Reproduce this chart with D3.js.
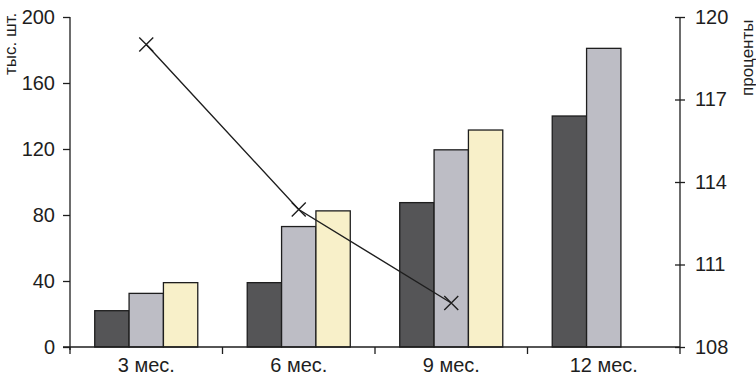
<!DOCTYPE html>
<html lang="ru">
<head>
  <meta charset="UTF-8">
  <title>Chart</title>
  <script src="https://d3js.org/d3.v7.min.js"></script>
  <style>
    body { margin: 0; background: #fff; }
    svg { display: block; font-family: "Liberation Sans", Arial, sans-serif; }
  </style>
</head>
<body>
  <svg id="chart" width="756" height="376"></svg>
  <script>
    const periods = ["3 мес.", "6 мес.", "9 мес.", "12 мес."];
    const seriesNames = ["s1", "s2", "s3"];
    const series1 = [22, 39, 87.5, 140];
    const series2 = [32.5, 73, 119.5, 181];
    const series3 = [39, 82.5, 131.5, null];
    const percents = [119, 113, 109.6];
    const leftTicks = [0, 40, 80, 120, 160, 200];
    const rightTicks = [108, 111, 114, 117, 120];
    const colors = ["#555557", "#bdbdc5", "#f8f0c9"];

    const svg = d3.select("#chart");
    const plotLeft = 70, plotRight = 680, plotTop = 17, plotBottom = 347;
    const fontFam = "Liberation Sans, Arial, sans-serif";

    const x = d3.scaleBand().domain(periods).range([plotLeft, plotRight]);
    const inner = d3.scaleBand().domain(seriesNames).range([0, x.bandwidth()]).paddingOuter(0.72).paddingInner(0);
    const yL = d3.scaleLinear().domain([0, 200]).range([plotBottom, plotTop]);
    const yR = d3.scaleLinear().domain([108, 120]).range([plotBottom, plotTop]);

    const data = periods.flatMap((p, i) => [series1[i], series2[i], series3[i]]
      .map((v, j) => ({ p, s: seriesNames[j], v, c: colors[j] }))
      .filter(d => d.v != null));

    svg.append("g").selectAll("rect").data(data).enter().append("rect")
      .attr("x", d => x(d.p) + inner(d.s))
      .attr("y", d => yL(d.v))
      .attr("width", inner.bandwidth())
      .attr("height", d => yL(0) - yL(d.v))
      .attr("fill", d => d.c)
      .attr("stroke", "#1e1e1e")
      .attr("stroke-width", 1.3);

    // left axis
    const gl = svg.append("g").attr("transform", `translate(${plotLeft},0)`)
      .call(d3.axisLeft(yL).tickValues(leftTicks).tickSize(7).tickPadding(8));
    gl.select(".domain").attr("d", `M0,${plotTop}V${plotBottom + 3}`).attr("stroke", "#1e1e1e").attr("stroke-width", 1.3);
    gl.selectAll(".tick line").attr("stroke", "#1e1e1e").attr("stroke-width", 1.3);
    gl.selectAll("text").attr("font-size", 20).attr("fill", "#1e1e1e").attr("font-family", fontFam);

    // right axis
    const gr = svg.append("g").attr("transform", `translate(${plotRight},0)`)
      .call(d3.axisRight(yR).tickValues(rightTicks).tickSize(5).tickPadding(10));
    gr.select(".domain").attr("d", `M0,${plotTop}V${plotBottom}`).attr("stroke", "#1e1e1e").attr("stroke-width", 1.3);
    gr.selectAll(".tick line").attr("x1", -5).attr("stroke", "#1e1e1e").attr("stroke-width", 1.3);
    gr.selectAll("text").attr("font-size", 20).attr("fill", "#1e1e1e").attr("font-family", fontFam);

    // bottom axis
    const gb = svg.append("g").attr("transform", `translate(0,${plotBottom})`)
      .call(d3.axisBottom(x).tickSize(0).tickPadding(11));
    gb.select(".domain").attr("d", `M${plotLeft - 7},0H${plotRight}`).attr("stroke", "#1e1e1e").attr("stroke-width", 1.3);
    gb.selectAll("text").attr("font-size", 20).attr("fill", "#1e1e1e").attr("font-family", fontFam);
    gb.selectAll(".sep").data(periods.concat(["end"])).enter().append("line")
      .attr("x1", (d, i) => i < periods.length ? x(d) : plotRight)
      .attr("x2", (d, i) => i < periods.length ? x(d) : plotRight)
      .attr("y1", 0).attr("y2", 7)
      .attr("stroke", "#1e1e1e").attr("stroke-width", 1.3);

    // percent line
    const pts = percents.map((v, i) => [x(periods[i]) + x.bandwidth() / 2, yR(v)]);
    svg.append("path").attr("d", d3.line()(pts))
      .attr("fill", "none").attr("stroke", "#1e1e1e").attr("stroke-width", 1.4);
    const m = 7;
    svg.append("g").selectAll("path").data(pts).enter().append("path")
      .attr("d", d => `M${d[0] - m},${d[1] - m}L${d[0] + m},${d[1] + m}M${d[0] - m},${d[1] + m}L${d[0] + m},${d[1] - m}`)
      .attr("stroke", "#1e1e1e").attr("stroke-width", 1.4);

    // axis titles
    svg.append("text").attr("transform", "translate(16,75) rotate(-90)")
      .attr("font-size", 17).attr("fill", "#1e1e1e").attr("font-family", fontFam).text("тыс. шт.");
    svg.append("text").attr("transform", "translate(753,96) rotate(-90)")
      .attr("font-size", 17).attr("fill", "#1e1e1e").attr("font-family", fontFam).text("проценты");
  </script>
</body>
</html>
